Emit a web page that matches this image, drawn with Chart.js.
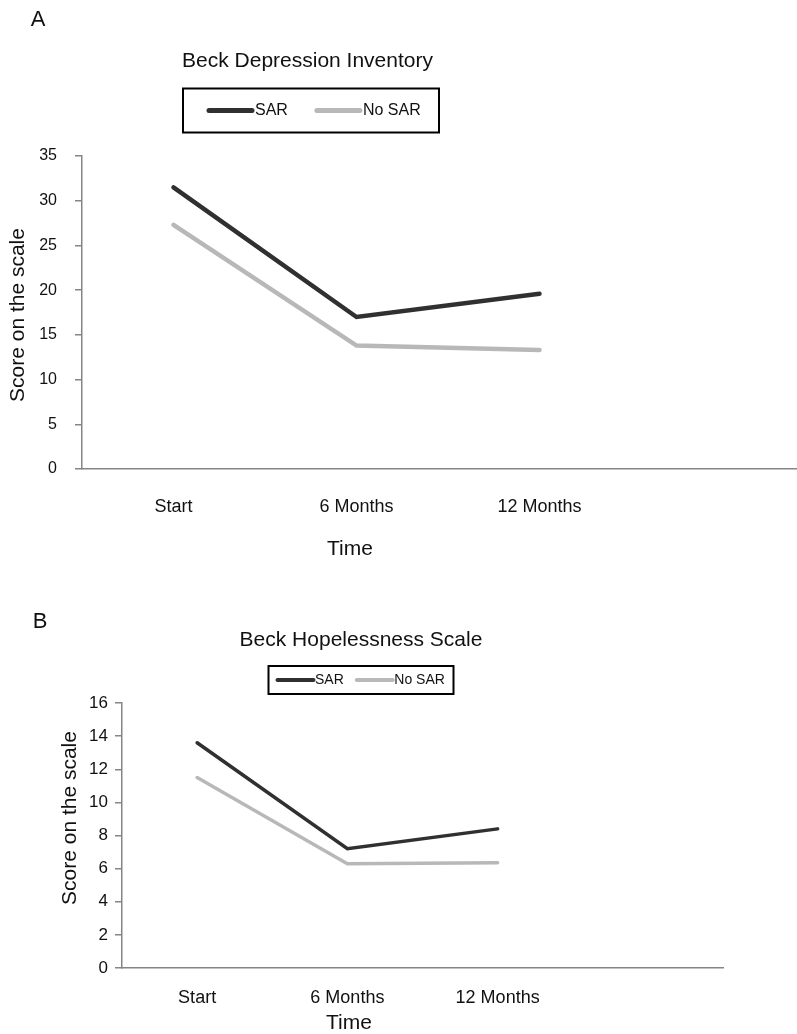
<!DOCTYPE html>
<html>
<head>
<meta charset="utf-8">
<title>Beck scales</title>
<script src="https://cdn.jsdelivr.net/npm/chart.js@4/dist/chart.umd.min.js"></script>
<style>
  html, body { margin: 0; padding: 0; background: #fff; overflow: hidden; }
  .panel { position: absolute; left: 0; }
  #panelA { top: 0; width: 814px; height: 575px; }
  #panelB { top: 575px; width: 797px; height: 459px; }
</style>
</head>
<body>
<div class="panel" id="panelA"><canvas id="bdiChart"></canvas></div>
<div class="panel" id="panelB"><canvas id="bhsChart"></canvas></div>
<script>
const FONT = '"Liberation Sans", Arial, Helvetica, sans-serif';

// time points (4th slot is empty in the original)
const periods = ['Start', '6 Months', '12 Months', ''];

// Beck Depression Inventory
const bdiSar = [31.5, 17.0, 19.6];
const bdiNoSar = [27.3, 13.8, 13.3];
const bdiTicks = [0, 5, 10, 15, 20, 25, 30, 35];

// Beck Hopelessness Scale
const bhsSar = [13.6, 7.2, 8.4];
const bhsNoSar = [11.5, 6.3, 6.35];
const bhsTicks = [0, 2, 4, 6, 8, 10, 12, 14, 16];

const seriesNames = ['SAR', 'No SAR'];
const sarColor = '#303030';
const noSarColor = '#b8b8b8';
const axisColor = '#858585';

// titles, panel letter and boxed legend, placed like the original figure
const panelDecor = {
    id: 'panelDecor',
    afterDraw(chart, args, o) {
        const ctx = chart.ctx;
        ctx.save();
        ctx.fillStyle = '#111';
        ctx.textBaseline = 'middle';
        ctx.textAlign = 'center';

        ctx.font = o.letterSize + 'px ' + FONT;
        ctx.fillText(o.letter, o.letterX, o.letterY);

        ctx.font = o.titleSize + 'px ' + FONT;
        ctx.fillText(o.title, o.titleX, o.titleY);

        ctx.font = o.xTitleSize + 'px ' + FONT;
        ctx.fillText('Time', o.xTitleX, o.xTitleY);

        ctx.save();
        ctx.translate(o.yTitleX, o.yTitleY);
        ctx.rotate(-Math.PI / 2);
        ctx.font = o.yTitleSize + 'px ' + FONT;
        ctx.fillText('Score on the scale', 0, 0);
        ctx.restore();

        // legend box
        ctx.strokeStyle = '#000';
        ctx.lineWidth = 2;
        ctx.strokeRect(o.legX, o.legY, o.legW, o.legH);
        const midY = o.legY + o.legH / 2;
        let x = o.legX + o.legPad;
        ctx.font = o.legSize + 'px ' + FONT;
        ctx.textAlign = 'left';
        ctx.lineCap = 'round';
        chart.data.datasets.forEach(function (ds) {
            ctx.strokeStyle = ds.borderColor;
            ctx.lineWidth = o.legLineWidth;
            ctx.beginPath();
            ctx.moveTo(x, midY);
            ctx.lineTo(x + o.legLine, midY);
            ctx.stroke();
            x += o.legLine + o.legGap;
            ctx.fillText(ds.label, x, midY);
            x += ctx.measureText(ds.label).width + o.legItemGap;
        });
        ctx.restore();
    }
};

function makeChart(id, sar, noSar, ticks, cfg) {
    const ctx = document.getElementById(id);
    return new Chart(ctx, {
        type: 'line',
        data: {
            labels: periods,
            datasets: [{
                label: seriesNames[0],
                data: sar,
                borderColor: sarColor,
                borderWidth: cfg.lineWidth,
                borderCapStyle: 'round',
                pointRadius: 0,
                tension: 0,
            }, {
                label: seriesNames[1],
                data: noSar,
                borderColor: noSarColor,
                borderWidth: cfg.lineWidth,
                borderCapStyle: 'round',
                pointRadius: 0,
                tension: 0,
            }]
        },
        options: {
            responsive: true,
            maintainAspectRatio: false,
            animation: false,
            layout: { padding: cfg.padding },
            plugins: {
                legend: { display: false },
                title: { display: false },
                tooltip: { enabled: false },
                panelDecor: cfg.decor,
            },
            scales: {
                x: {
                    offset: true,
                    grid: { display: false },
                    border: { display: true, color: axisColor, width: 1.5 },
                    ticks: {
                        color: '#111',
                        padding: cfg.xTickPad,
                        maxRotation: 0,
                        autoSkip: false,
                        font: { family: FONT, size: cfg.xTickSize },
                    },
                    afterFit: function (scale) { scale.height = cfg.xHeight; },
                },
                y: {
                    min: ticks[0],
                    max: ticks[ticks.length - 1],
                    grid: {
                        drawOnChartArea: false,
                        drawTicks: true,
                        tickLength: 7,
                        color: axisColor,
                        lineWidth: 1.5,
                    },
                    border: { display: true, color: axisColor, width: 1.5 },
                    ticks: {
                        stepSize: ticks[1] - ticks[0],
                        color: '#111',
                        padding: cfg.yTickPad,
                        font: { family: FONT, size: cfg.yTickSize },
                    },
                    afterFit: function (scale) { scale.width = cfg.yWidth; },
                },
            },
        },
        plugins: [panelDecor],
    });
}

document.addEventListener('DOMContentLoaded', function () {
    makeChart('bdiChart', bdiSar, bdiNoSar, bdiTicks, {
        lineWidth: 4.5,
        padding: { top: 156, right: 0, bottom: 0, left: 0 },
        xHeight: 106,
        yWidth: 82,
        xTickPad: 19,
        xTickSize: 18,
        yTickPad: 18,
        yTickSize: 16,
        decor: {
            letter: 'A', letterX: 38, letterY: 20, letterSize: 22,
            title: 'Beck Depression Inventory', titleX: 307.5, titleY: 61, titleSize: 21,
            xTitleX: 350, xTitleY: 549, xTitleSize: 21,
            yTitleX: 18.5, yTitleY: 315, yTitleSize: 21,
            legX: 183, legY: 88.5, legW: 256, legH: 44,
            legPad: 26, legLine: 43, legGap: 3, legItemGap: 29,
            legSize: 16, legLineWidth: 5,
        },
    });

    makeChart('bhsChart', bhsSar, bhsNoSar, bhsTicks, {
        lineWidth: 3.5,
        padding: { top: 128, right: 74, bottom: 0, left: 0 },
        xHeight: 66,
        yWidth: 122,
        xTickPad: 11,
        xTickSize: 18,
        yTickPad: 7,
        yTickSize: 17,
        decor: {
            letter: 'B', letterX: 40, letterY: 47, letterSize: 22,
            title: 'Beck Hopelessness Scale', titleX: 361, titleY: 65, titleSize: 21,
            xTitleX: 349, xTitleY: 448, xTitleSize: 21,
            yTitleX: 70.5, yTitleY: 243, yTitleSize: 21,
            legX: 268.5, legY: 91, legW: 185, legH: 28,
            legPad: 9, legLine: 36, legGap: 1.5, legItemGap: 13,
            legSize: 14, legLineWidth: 4,
        },
    });
});
</script>
</body>
</html>
